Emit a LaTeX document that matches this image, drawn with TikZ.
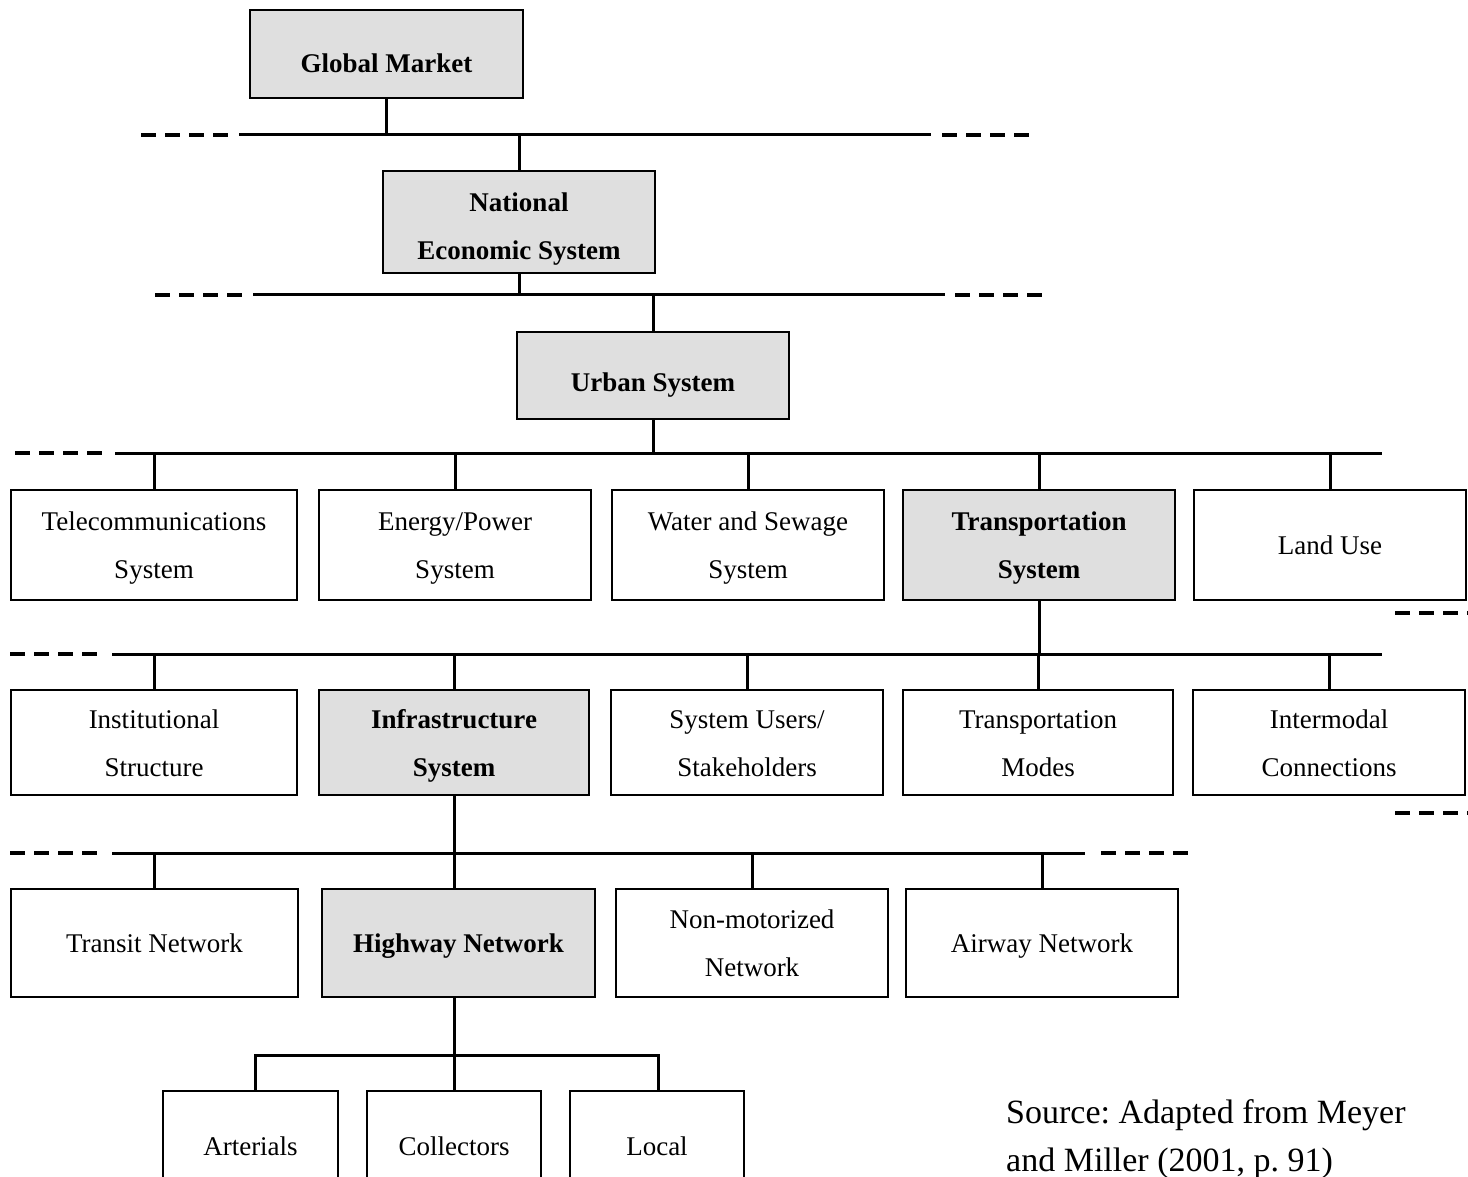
\documentclass[tikz,border=0pt]{standalone}
\usepackage{fontspec}
\setmainfont{Liberation Serif}
\frenchspacing
\definecolor{boxgray}{RGB}{223,223,223}
% shift a label down without changing the size TikZ sees
\newcommand{\drop}[2]{\raisebox{-#1}[\height][\depth]{#2}}
\newcommand{\twolines}[2]{\begin{tabular}{@{}c@{}}#1\\#2\end{tabular}}
\begin{document}
\begin{tikzpicture}[x=1pt,y=-1pt,
  box/.style={draw, line width=2pt, inner sep=0pt, outer sep=0pt, align=center,
    font=\fontsize{27}{48}\selectfont},
  keybox/.style={box, fill=boxgray, font=\fontsize{27}{48}\selectfont\bfseries},
  wire/.style={line width=3pt},
  brk/.style={line width=4.5pt, dash pattern=on 15pt off 9pt}]
\useasboundingbox (0,0) rectangle (1468,1177);
\clip (0,0) rectangle (1468,1177);

% ---- top of the hierarchy
\node[keybox, minimum width=273, minimum height=88] (gm) at (386.5,54) {\drop{9pt}{Global Market}};
\node[keybox, minimum width=272, minimum height=102] (ne) at (519,222) {\drop{4pt}{\twolines{National}{Economic System}}};
\node[keybox, minimum width=272, minimum height=87] (us) at (653,375.5) {\drop{10pt}{Urban System}};

% ---- urban subsystems
\node[box, minimum width=286, minimum height=110] (tel) at (154,545) {\twolines{Telecommunications}{System}};
\node[box, minimum width=272, minimum height=110] (en)  at (455,545) {\twolines{Energy/Power}{System}};
\node[box, minimum width=272, minimum height=110] (wa)  at (748,545) {\twolines{Water and Sewage}{System}};
\node[keybox, minimum width=272, minimum height=110] (tr) at (1039,545) {\twolines{Transportation}{System}};
\node[box, minimum width=272, minimum height=110] (lu)  at (1330,545) {Land Use};

% ---- transportation subsystems
\node[box, minimum width=286, minimum height=105] (ins) at (154,742.5) {\twolines{Institutional}{Structure}};
\node[keybox, minimum width=270, minimum height=105] (inf) at (454,742.5) {\twolines{Infrastructure}{System}};
\node[box, minimum width=272, minimum height=105] (usr) at (747,742.5) {\twolines{System Users/}{Stakeholders}};
\node[box, minimum width=270, minimum height=105] (tm)  at (1038,742.5) {\twolines{Transportation}{Modes}};
\node[box, minimum width=272, minimum height=105] (im)  at (1329,742.5) {\twolines{Intermodal}{Connections}};

% ---- infrastructure networks
\node[box, minimum width=287, minimum height=108] (tn) at (154.5,943) {Transit Network};
\node[keybox, minimum width=273, minimum height=108] (hn) at (458.5,943) {\drop{3pt}{Highway Network}};
\node[box, minimum width=272, minimum height=108] (nm) at (752,943) {\twolines{Non-motorized}{Network}};
\node[box, minimum width=272, minimum height=108] (an) at (1042,943) {\drop{3pt}{Airway Network}};

% ---- highway classes
\node[box, minimum width=175, minimum height=110] (ar) at (250.5,1146) {Arterials};
\node[box, minimum width=174, minimum height=110] (co) at (454,1146) {Collectors};
\node[box, minimum width=174, minimum height=110] (lo) at (657,1146) {Local};

% ---- source note
\node[anchor=west, inner sep=0pt, align=left, font=\fontsize{34}{48}\selectfont] (src)
  at (1006,1139) {Source: Adapted from Meyer\\and Miller (2001, p. 91)};

% ---- bus lines
\coordinate (b1l) at (239,135);  \coordinate (b1r) at (931,135);
\coordinate (b2l) at (253,295);  \coordinate (b2r) at (945,295);
\coordinate (b3l) at (115,453);  \coordinate (b3r) at (1382,453);
\coordinate (b4l) at (112,654);  \coordinate (b4r) at (1382,654);
\coordinate (b5l) at (112,853);  \coordinate (b5r) at (1085,853);
\coordinate (b6l) at (255,1055); \coordinate (b6r) at (658,1055);
\foreach \n in {1,...,5} \draw[wire] (b\n l) -- (b\n r);

% ---- broken continuations
\coordinate (d1a) at (141,135);  \coordinate (d1b) at (230,135);
\coordinate (d1c) at (942,135);  \coordinate (d1d) at (1030,135);
\coordinate (d2a) at (155,295);  \coordinate (d2b) at (244,295);
\coordinate (d2c) at (955,295);  \coordinate (d2d) at (1043,295);
\coordinate (d3a) at (15,453);   \coordinate (d3b) at (104,453);
\coordinate (d3c) at (1395,613); \coordinate (d3d) at (1490,613);
\coordinate (d4a) at (10,654);   \coordinate (d4b) at (99,654);
\coordinate (d4c) at (1395,813); \coordinate (d4d) at (1490,813);
\coordinate (d5a) at (10,853);   \coordinate (d5b) at (99,853);
\coordinate (d5c) at (1101,853); \coordinate (d5d) at (1190,853);
\foreach \n in {1,...,5} {
  \draw[brk] (d\n a) -- (d\n b);
  \draw[brk] (d\n c) -- (d\n d);
}

% ---- connectors
\draw[wire] (gm.south) -- (gm.south |- b1l);
\draw[wire] (ne.north) -- (ne.north |- b1l);
\draw[wire] (ne.south) -- (ne.south |- b2l);
\draw[wire] (us.north) -- (us.north |- b2l);
\draw[wire] (us.south) -- (us.south |- b3l);
\foreach \c in {tel,en,wa,tr,lu} \draw[wire] (\c.north) -- (\c.north |- b3l);
\draw[wire] (tr.south) -- (tr.south |- b4l);
\foreach \c in {ins,inf,usr,tm,im} \draw[wire] (\c.north) -- (\c.north |- b4l);
\draw[wire] (inf.south) -- (inf.south |- hn.north);
\foreach \c in {tn,nm,an} \draw[wire] (\c.north) -- (\c.north |- b5l);
\draw[wire] (hn.south -| inf.south) -- (b6l -| inf.south);
\draw[wire] (b6l |- ar.north) -- (b6l) -- (b6r) -- (b6r |- lo.north);
\draw[wire] (co.north -| inf.south) -- (b6l -| inf.south);
\end{tikzpicture}
\end{document}
